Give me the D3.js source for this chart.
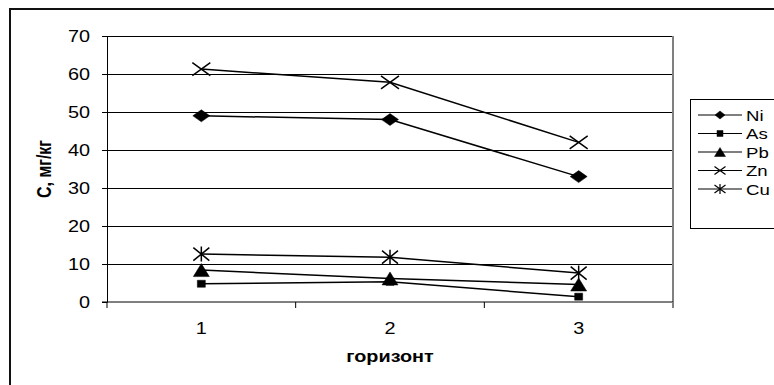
<!DOCTYPE html>
<html>
<head>
<meta charset="utf-8">
<script src="https://cdn.jsdelivr.net/npm/d3@7"></script>
<style>
  html, body { margin: 0; padding: 0; background: #fff; }
  svg { display: block; }
  text { font-family: "Liberation Sans", Arial, sans-serif; fill: #000; }
</style>
</head>
<body>
<svg id="chart" width="774" height="385"></svg>
<script>
// Horizons along the x axis
const horizons = ["1", "2", "3"];
// Element contents, mg/kg
const ni = [49.0, 48.0, 33.0];
const as = [4.8, 5.3, 1.4];
const pb = [8.4, 6.2, 4.6];
const zn = [61.3, 57.8, 42.0];
const cu = [12.6, 11.8, 7.6];
const seriesNames = ["Ni", "As", "Pb", "Zn", "Cu"];
const yTicks = [0, 10, 20, 30, 40, 50, 60, 70];

const series = [
  { name: seriesNames[0], values: ni, marker: "diamond" },
  { name: seriesNames[1], values: as, marker: "square" },
  { name: seriesNames[2], values: pb, marker: "triangle" },
  { name: seriesNames[3], values: zn, marker: "cross" },
  { name: seriesNames[4], values: cu, marker: "star" }
];

const SX = 1.24; // horizontal stretch of text
const svg = d3.select("#chart");

// outer frame
svg.append("path")
  .attr("d", "M10,400 L10,9 L790,9")
  .attr("fill", "none").attr("stroke", "#111").attr("stroke-width", 2);

const plot = { left: 107, right: 673, top: 36, bottom: 302 };

const x = d3.scaleBand().domain(horizons).range([plot.left, plot.right]);
const cx = d => x(d) + x.bandwidth() / 2;
const y = d3.scaleLinear().domain([0, 70]).range([plot.bottom, plot.top]);

// horizontal gridlines
const grid = svg.append("g").attr("transform", `translate(${plot.left},0)`)
  .call(d3.axisLeft(y).tickValues(yTicks.filter(v => v > 0)).tickSize(-(plot.right - plot.left)).tickFormat(""));
grid.select(".domain").remove();
grid.selectAll("line").attr("stroke", "#000").attr("stroke-width", 1);

// right border of plot area
svg.append("line")
  .attr("x1", plot.right).attr("x2", plot.right)
  .attr("y1", plot.top).attr("y2", plot.bottom + 6)
  .attr("stroke", "#808080").attr("stroke-width", 2);

// y axis
const yAxis = svg.append("g").attr("transform", `translate(${plot.left},0)`)
  .call(d3.axisLeft(y).tickValues(yTicks).tickSize(5).tickSizeOuter(0));
yAxis.select(".domain").attr("stroke", "#000");
yAxis.selectAll("line").attr("stroke", "#000");
yAxis.selectAll("text")
  .attr("x", -17 / SX).attr("dy", "0.36em")
  .attr("transform", `scale(${SX},1)`)
  .style("font-size", "16px").style("font-family", "Liberation Sans, Arial, sans-serif");

// x axis with ticks between categories
const xAxis = svg.append("g").attr("transform", `translate(0,${plot.bottom})`);
xAxis.append("line").attr("x1", plot.left - 5).attr("x2", plot.right)
  .attr("stroke", "#000").attr("stroke-width", 1);
const edges = horizons.map(h => x(h)).concat([plot.right]);
xAxis.selectAll("line.tick").data(edges).join("line")
  .attr("class", "tick")
  .attr("x1", d => d).attr("x2", d => d).attr("y1", 0).attr("y2", 6)
  .attr("stroke", d => d === plot.right ? "#808080" : "#000")
  .attr("stroke-width", d => d === plot.right ? 2 : 1);
xAxis.selectAll("text").data(horizons).join("text")
  .attr("transform", d => `translate(${cx(d)},32) scale(${SX},1)`)
  .attr("text-anchor", "middle")
  .style("font-size", "16px")
  .text(d => d);

// axis titles
svg.append("text")
  .attr("transform", `translate(${(plot.left + plot.right) / 2},362) scale(${SX},1)`)
  .attr("text-anchor", "middle")
  .style("font-size", "16px").style("font-weight", "bold")
  .text("горизонт");
svg.append("text")
  .attr("transform", `translate(51,169) scale(${SX},1) rotate(-90)`)
  .attr("text-anchor", "middle")
  .style("font-size", "16px").style("font-weight", "bold")
  .text("C, мг/кг");

// marker shapes (w, h in pixels)
function markerPath(type, w, h) {
  const a = w / 2, b = h / 2;
  switch (type) {
    case "diamond": return `M0,${-b}L${a},0L0,${b}L${-a},0Z`;
    case "square": return `M${-a},${-b}H${a}V${b}H${-a}Z`;
    case "triangle": return `M0,${-b}L${a},${b}H${-a}Z`;
    case "cross": return `M${-a},${-b}L${a},${b}M${-a},${b}L${a},${-b}`;
    case "star": return `M${-a},${-b}L${a},${b}M${-a},${b}L${a},${-b}M0,${-b - 1}V${b + 1}`;
  }
}
const plotSize = { diamond: [17, 12], square: [8, 7], triangle: [16, 13], cross: [18, 13], star: [16, 13] };
const legSize = { diamond: [10, 8], square: [6, 6], triangle: [11, 9], cross: [11, 8], star: [11, 8] };
const filled = t => t === "diamond" || t === "square" || t === "triangle";

const line = d3.line().x(d => cx(d.h)).y(d => y(d.v));
const sg = svg.append("g");
series.forEach(s => {
  const pts = s.values.map((v, i) => ({ h: horizons[i], v }));
  sg.append("path").datum(pts).attr("d", line)
    .attr("fill", "none").attr("stroke", "#000").attr("stroke-width", 1.5);
  sg.selectAll(null).data(pts).join("path")
    .attr("transform", d => `translate(${cx(d.h)},${y(d.v)})`)
    .attr("d", markerPath(s.marker, ...plotSize[s.marker]))
    .attr("fill", filled(s.marker) ? "#000" : "none")
    .attr("stroke", "#000").attr("stroke-width", filled(s.marker) ? 0.5 : 1.5);
});

// legend
const leg = svg.append("g");
leg.append("rect").attr("x", 690.5).attr("y", 99.5).attr("width", 120).attr("height", 129)
  .attr("fill", "#fff").attr("stroke", "#000").attr("stroke-width", 1);
const rowY = d3.scalePoint().domain(seriesNames).range([115, 189]);
series.forEach(s => {
  const ry = rowY(s.name);
  leg.append("line").attr("x1", 698).attr("x2", 742).attr("y1", ry).attr("y2", ry)
    .attr("stroke", "#000").attr("stroke-width", 1.2);
  leg.append("path").attr("transform", `translate(720,${ry})`)
    .attr("d", markerPath(s.marker, ...legSize[s.marker]))
    .attr("fill", filled(s.marker) ? "#000" : "none")
    .attr("stroke", "#000").attr("stroke-width", filled(s.marker) ? 0.5 : 1.2);
  leg.append("text").attr("transform", `translate(746,${ry + 5.5}) scale(${SX},1)`)
    .style("font-size", "15px").text(s.name);
});
</script>
</body>
</html>
